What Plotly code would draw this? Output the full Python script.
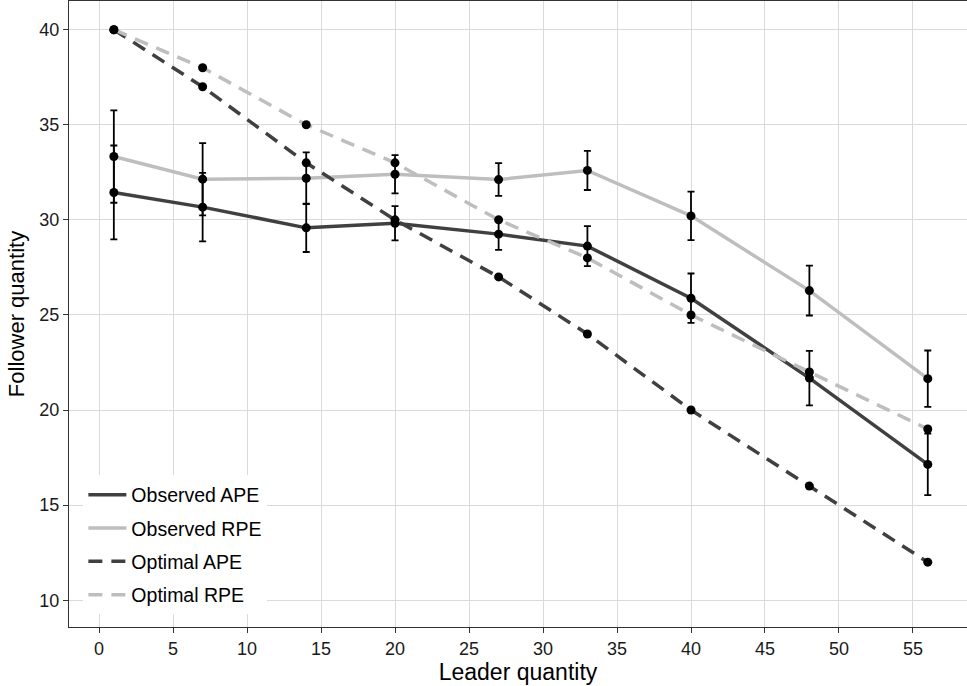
import plotly.graph_objects as go

leader = [1, 7, 14, 20, 27, 33, 40, 48, 56]

obs_ape = [31.44, 30.67, 29.58, 29.82, 29.25, 28.62, 25.88, 21.68, 17.14]
obs_ape_err = [2.47, 1.80, 1.27, 0.90, 0.83, 1.05, 1.30, 1.43, 1.62]
obs_rpe = [33.33, 32.14, 32.19, 32.40, 32.12, 32.60, 30.21, 26.28, 21.65]
obs_rpe_err = [2.43, 1.90, 1.36, 1.01, 0.86, 1.03, 1.28, 1.31, 1.48]
opt_ape = [40, 37, 33, 30, 27, 24, 20, 16, 12]
opt_rpe = [40, 38, 35, 33, 30, 28, 25, 22, 19]

x_ticks = [0, 5, 10, 15, 20, 25, 30, 35, 40, 45, 50, 55]
y_ticks = [10, 15, 20, 25, 30, 35, 40]

DARK = "#404040"
LIGHT = "#bebebe"
FONT = "Liberation Sans, Arial, sans-serif"

fig = go.Figure()

lines = [
    ("Observed APE", obs_ape, DARK, "solid"),
    ("Observed RPE", obs_rpe, LIGHT, "solid"),
    ("Optimal APE", opt_ape, DARK, "14px,9px"),
    ("Optimal RPE", opt_rpe, LIGHT, "14px,9px"),
]
for i, (name, ys, col, dash) in enumerate(lines):
    fig.add_trace(go.Scatter(
        x=leader, y=ys, mode="lines", name=name,
        line=dict(color=col, width=3.5, dash=dash),
        legendgroup=f"g{i}", legendrank=i + 1,
    ))

for ys in (opt_ape, opt_rpe):
    fig.add_trace(go.Scatter(
        x=leader, y=ys, mode="markers", showlegend=False,
        marker=dict(color="black", size=9),
    ))

for ys, err in ((obs_ape, obs_ape_err), (obs_rpe, obs_rpe_err)):
    fig.add_trace(go.Scatter(
        x=leader, y=ys, mode="markers", showlegend=False,
        marker=dict(color="black", size=9),
        error_y=dict(type="data", array=err, visible=True,
                     color="black", thickness=1.8, width=3.5),
    ))

fig.update_layout(
    width=967, height=686,
    margin=dict(l=69, r=0, t=1, b=59, autoexpand=False),
    paper_bgcolor="white", plot_bgcolor="white",
    font=dict(family=FONT, color="black", size=18),
    showlegend=True,
    legend=dict(
        x=0.016, y=0.02, xanchor="left", yanchor="bottom",
        bgcolor="white", borderwidth=0,
        font=dict(size=19.5, color="black"),
        tracegroupgap=5,
        itemwidth=38,
    ),
)

axis_common = dict(
    showgrid=True, gridcolor="#dadada", gridwidth=1,
    showline=True, linecolor="#333333", linewidth=1.2,
    ticks="outside", ticklen=5, tickcolor="#333333", tickwidth=1.2,
    tickfont=dict(size=18, color="#1a1a1a", family=FONT),
    zeroline=False, automargin=False,
)

fig.update_xaxes(
    **axis_common,
    range=[-2.03, 58.65], tickvals=x_ticks,
    mirror=True,
    title=dict(text="Leader quantity", font=dict(size=23, color="black"), standoff=0),
)
fig.update_yaxes(
    **axis_common,
    range=[8.59, 41.51], tickvals=y_ticks,
    title=dict(text="Follower quantity", font=dict(size=22, color="black"), standoff=8),
)

fig.write_html(
    "out.html",
    config={"displayModeBar": False},
    post_script="document.body.style.margin='0';document.body.style.overflow='hidden';",
)
